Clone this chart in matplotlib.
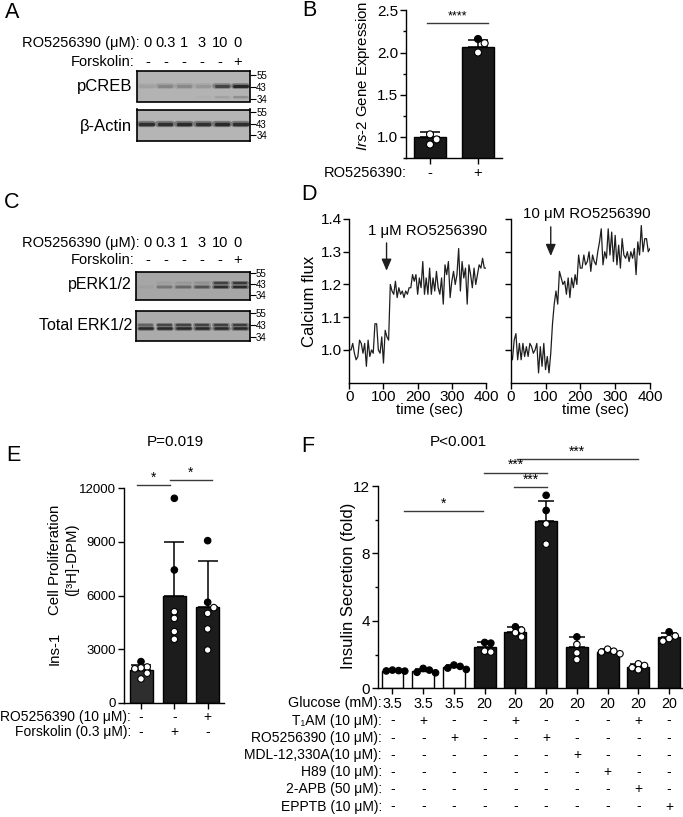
import matplotlib
matplotlib.use('Agg')

import matplotlib.pyplot as plt
from matplotlib.ticker import MultipleLocator, FixedLocator, FormatStrFormatter

W, H = 683, 817

plt.rcParams['font.family'] = ['Liberation Sans', 'DejaVu Sans']
plt.rcParams['mathtext.fontset'] = 'custom'
plt.rcParams['mathtext.rm'] = 'Liberation Sans'
plt.rcParams['mathtext.it'] = 'Liberation Sans:italic'

# ---------------- data ----------------
# A / C: western blots (band intensity 0..1 per lane)
ro_doses = ['0', '0.3', '1', '3', '10', '0']
forskolin = ['-', '-', '-', '-', '-', '+']
ladder = [55, 43, 34]
pcreb_44 = [0.12, 0.30, 0.28, 0.18, 0.72, 0.92]
pcreb_35 = [0.0, 0.0, 0.0, 0.03, 0.12, 0.25]
actin_42 = [0.86, 0.86, 0.90, 0.86, 0.90, 0.86]
perk_44 = [0.0, 0.06, 0.10, 0.16, 0.72, 0.78]
perk_42 = [0.05, 0.35, 0.45, 0.60, 0.86, 0.88]
erk_44 = [0.50, 0.70, 0.72, 0.72, 0.75, 0.76]
erk_42 = [0.90, 0.90, 0.90, 0.90, 0.90, 0.90]

# B: Irs-2 expression
irs2_mean = [1.00, 2.07]
irs2_sd = [0.06, 0.08]
irs2_pts = [[1.03, 0.97, 0.91], [2.16, 2.11, 2.00]]
irs2_ro = ['-', '+']

# D: calcium flux traces
time_s = list(range(0, 401, 5))
flux_1um = [1.00, 1.00, 1.02, 0.99, 0.97, 0.98, 1.03, 1.02, 0.99, 1.02,
            0.95, 1.03, 0.98, 1.00, 0.99, 1.08, 1.08, 1.00, 0.99, 1.04,
            0.96, 1.06, 1.04, 1.03, 1.20, 1.18, 1.17, 1.21, 1.16, 1.19,
            1.17, 1.18, 1.16, 1.18, 1.17, 1.19, 1.19, 1.23, 1.21, 1.23,
            1.17, 1.22, 1.19, 1.27, 1.17, 1.22, 1.17, 1.25, 1.17, 1.22,
            1.18, 1.24, 1.19, 1.17, 1.22, 1.14, 1.26, 1.23, 1.27, 1.16,
            1.21, 1.24, 1.20, 1.23, 1.31, 1.18, 1.27, 1.22, 1.25, 1.14,
            1.26, 1.23, 1.19, 1.25, 1.20, 1.23, 1.26, 1.25, 1.28, 1.25,
            1.25]
flux_10um = [0.99, 0.97, 1.03, 1.05, 0.97, 1.02, 0.97, 1.02, 0.98, 1.01,
             0.98, 1.02, 1.01, 0.99, 1.00, 1.02, 0.93, 1.01, 0.95, 1.02,
             0.94, 0.98, 0.93, 0.99, 1.08, 1.14, 1.18, 1.14, 1.24, 1.22,
             1.20, 1.21, 1.17, 1.22, 1.16, 1.22, 1.19, 1.23, 1.20, 1.29,
             1.25, 1.25, 1.29, 1.26, 1.27, 1.30, 1.24, 1.29, 1.27, 1.26,
             1.30, 1.33, 1.37, 1.26, 1.30, 1.28, 1.37, 1.29, 1.36, 1.27,
             1.35, 1.26, 1.32, 1.25, 1.34, 1.29, 1.28, 1.30, 1.27, 1.30,
             1.28, 1.31, 1.23, 1.33, 1.29, 1.38, 1.30, 1.34, 1.34, 1.30,
             1.31]

# E: Ins-1 proliferation
prolif_mean = [1830, 5950, 5370]
prolif_sd = [280, 3020, 2570]
prolif_pts = [[2300, 2000, 1950, 1900, 1650, 1330],
              [11440, 7430, 5090, 4720, 3980, 3550],
              [9070, 5620, 5320, 5000, 4130, 2950]]
e_ro = ['-', '-', '+']
e_fsk = ['-', '+', '-']

# F: insulin secretion
ins_mean = [1.05, 1.05, 1.25, 2.45, 3.35, 9.95, 2.45, 2.15, 1.28, 3.02]
ins_sd = [0.05, 0.12, 0.15, 0.32, 0.28, 1.14, 0.58, 0.18, 0.15, 0.25]
ins_pts = [[1.08, 1.05, 1.03, 1.02], [1.18, 1.08, 0.95, 0.92],
           [1.38, 1.30, 1.20, 1.12], [2.72, 2.68, 2.20, 2.15],
           [3.65, 3.45, 3.30, 3.05], [11.45, 10.55, 9.75, 8.55],
           [3.05, 2.60, 2.10, 1.70], [2.32, 2.20, 2.15, 2.05],
           [1.45, 1.35, 1.22, 1.10], [3.35, 3.10, 2.95, 2.80]]
glucose = ['3.5', '3.5', '3.5', '20', '20', '20', '20', '20', '20', '20']
f_labels = ['T\u2081AM (10 \u03bcM):', 'RO5256390 (10 \u03bcM):',
            'MDL-12,330A(10 \u03bcM):', 'H89 (10 \u03bcM):',
            '2-APB (50 \u03bcM):', 'EPPTB (10 \u03bcM):']
f_signs = [['-', '+', '-', '-', '+', '-', '-', '-', '+', '-'],
           ['-', '-', '+', '-', '-', '+', '-', '-', '-', '-'],
           ['-', '-', '-', '-', '-', '-', '+', '-', '-', '-'],
           ['-', '-', '-', '-', '-', '-', '-', '+', '-', '-'],
           ['-', '-', '-', '-', '-', '-', '-', '-', '+', '-'],
           ['-', '-', '-', '-', '-', '-', '-', '-', '-', '+']]

# ---------------- helpers ----------------
fig = plt.figure(figsize=(W / 100, H / 100), dpi=100)


def rect(x0, y0, x1, y1):
    return [x0 / W, 1 - y1 / H, (x1 - x0) / W, (y1 - y0) / H]


def ftext(x, y, s, **kw):
    kw.setdefault('ha', 'center')
    kw.setdefault('va', 'center')
    return fig.text(x / W, 1 - y / H, s, **kw)


def col_px(ax, i):
    return ax.transData.transform((i, 0))[0]


def style(ax):
    for s in ('top', 'right'):
        ax.spines[s].set_visible(False)
    for s in ('left', 'bottom'):
        ax.spines[s].set_linewidth(1.0)
    ax.tick_params(length=4, width=1.0, pad=1.5)


def blot(box, ylim, bg, bands):
    ax = fig.add_axes(rect(*box))
    ax.set_facecolor(bg)
    ax.set_xlim(-0.5, 5.5)
    ax.set_yscale('log')
    ax.set_ylim(*ylim)
    ax.set_xticks([])
    ax.yaxis.tick_right()
    ax.set_yticks(ladder)
    ax.set_yticklabels([str(m) for m in ladder])
    ax.set_yticks([], minor=True)
    ax.tick_params(axis='y', length=4, width=0.8, labelsize=7, pad=0.5)
    for sp in ax.spines.values():
        sp.set_linewidth(1.2)
    g = matplotlib.colors.to_rgb(bg)[0]
    for kda, vals, lw in bands:
        for i, v in enumerate(vals):
            if v <= 0:
                continue
            soft = g - (g - 0.1) * v * 0.45
            core = g - (g - 0.1) * v
            ax.plot([i - 0.36, i + 0.36], [kda, kda], color=str(soft),
                    lw=lw * 1.8, solid_capstyle='round')
            ax.plot([i - 0.33, i + 0.33], [kda, kda], color=str(core),
                    lw=lw, solid_capstyle='round')
    return ax


def swarm_x(ax, i, vals, d_px):
    ppx = col_px(ax, 1) - col_px(ax, 0)
    placed, xs = [], []
    for v in vals:
        yv = ax.transData.transform((0, v))[1]
        dx = 0
        for k in [0, 1, -1, 2, -2, 3, -3]:
            dx = k * d_px * 0.95
            if all((dx - px) ** 2 + (yv - py) ** 2 >= (d_px * 0.9) ** 2
                   for px, py in placed):
                break
        placed.append((dx, yv))
        xs.append(i + dx / ppx)
    return xs


def bar_panel(ax, means, sds, pts, colors, width, d_px, capsize):
    x = list(range(len(means)))
    ax.bar(x, means, width, color=colors, edgecolor='black', linewidth=1.0,
           zorder=2)
    ax.errorbar(x, means, yerr=[[0] * len(sds), sds], fmt='none',
                ecolor='black', elinewidth=1.1, capsize=capsize,
                capthick=1.1, zorder=3)
    for i, vals in enumerate(pts):
        xs = swarm_x(ax, i, vals, d_px)
        top = ax.transData.transform((0, means[i]))[1]
        fc = []
        for v in vals:
            vp = ax.transData.transform((0, v))[1]
            fc.append('black' if colors[i] == 'white' or vp - top > d_px * 0.55
                      else 'white')
        ax.scatter(xs, vals, s=(d_px * 0.72) ** 2, facecolors=fc,
                   edgecolors='black', linewidths=0.8, zorder=4, clip_on=False)


def sig(ax, x0, x1, y, label, fs=10):
    ax.plot([x0, x1], [y, y], color='#3a3a3a', lw=1.0, clip_on=False)
    ax.annotate(label, ((x0 + x1) / 2, y), xytext=(0, 0.2),
                textcoords='offset points', ha='center', va='bottom',
                fontsize=fs, annotation_clip=False)


# ---------------- A ----------------
lanes_px = [148, 166, 184, 202, 220, 238]
ftext(12, 13, 'A', fontsize=15.5)
ftext(140, 43, 'RO5256390 (\u03bcM):', ha='right', fontsize=10.5)
ftext(135, 62, 'Forskolin:', ha='right', fontsize=10.5)
for x, d, f in zip(lanes_px, ro_doses, forskolin):
    ftext(x, 43, d, fontsize=10.5)
    ftext(x, 62, f, fontsize=10.5)
blot((137, 71, 250, 101.5), (32.55, 59.5), '#b3b3b3',
     [(44, pcreb_44, 2.2), (35.5, pcreb_35, 1.3)])
blot((137, 109.5, 250, 141), (29.9, 58.4), '#b5b5b5',
     [(42.5, actin_42, 2.5)])
ftext(132, 86, 'pCREB', ha='right', fontsize=12)
ftext(132, 126, '\u03b2-Actin', ha='right', fontsize=12)

# ---------------- C ----------------
ftext(12, 203, 'C', fontsize=15.5)
ftext(140, 243, 'RO5256390 (\u03bcM):', ha='right', fontsize=10.5)
ftext(135, 260, 'Forskolin:', ha='right', fontsize=10.5)
for x, d, f in zip(lanes_px, ro_doses, forskolin):
    ftext(x, 243, d, fontsize=10.5)
    ftext(x, 260, f, fontsize=10.5)
blot((136, 271.7, 249.5, 300), (30.5, 56.2), '#a6a6a6',
     [(43.7, perk_44, 1.6), (40.7, perk_42, 1.6)])
blot((136, 311, 249.5, 341), (31.4, 56.9), '#ababab',
     [(43.5, erk_44, 1.6), (40.3, erk_42, 1.8)])
ftext(132, 285, 'pERK1/2', ha='right', fontsize=11.5)
ftext(132, 326, 'Total ERK1/2', ha='right', fontsize=11.5)

# ---------------- B ----------------
ftext(309, 11, 'B', fontsize=15.5)
axB = fig.add_axes(rect(406, 10.3, 502, 158))
style(axB)
axB.set_xlim(-0.5, 1.5)
axB.set_ylim(0.75, 2.5)
axB.yaxis.set_major_locator(FixedLocator([1.0, 1.5, 2.0, 2.5]))
axB.yaxis.set_major_formatter(FormatStrFormatter('%.1f'))
axB.yaxis.set_minor_locator(MultipleLocator(0.25))
axB.tick_params(axis='y', which='minor', length=2.5, width=1.0)
axB.set_xticks([0, 1])
axB.set_xticklabels([])
axB.tick_params(labelsize=11)
bar_panel(axB, irs2_mean, irs2_sd, irs2_pts, ['#1a1a1a', '#1a1a1a'],
          0.667, 7, 7)
sig(axB, -0.07, 1.2, 2.35, '****', fs=9)
ftext(363, 76, r'$\mathit{Irs}$-2 Gene Expression', rotation=90, fontsize=10.8)
ftext(407, 173, 'RO5256390:', ha='right', fontsize=10.5)
for i, s in enumerate(irs2_ro):
    ftext(col_px(axB, i), 173, s, fontsize=10.5)

# ---------------- D ----------------
ftext(309, 195, 'D', fontsize=15.5)
axD1 = fig.add_axes(rect(349.3, 219, 486, 382.7))
axD2 = fig.add_axes(rect(510.7, 219, 650, 382.7))
for ax, trace in ((axD1, flux_1um), (axD2, flux_10um)):
    style(ax)
    ax.plot(time_s, trace, color='#1e1e1e', lw=0.9)
    ax.set_xlim(0, 400)
    ax.set_ylim(0.9, 1.4)
    ax.xaxis.set_major_locator(MultipleLocator(100))
    ax.yaxis.set_major_locator(FixedLocator([1.0, 1.1, 1.2, 1.3, 1.4]))
    ax.yaxis.set_major_formatter(FormatStrFormatter('%.1f'))
    ax.tick_params(labelsize=11, pad=1)
axD2.set_yticklabels([])
arrow = dict(arrowstyle='-|>,head_length=0.7,head_width=0.3', color='#1e1e1e',
             lw=1.0, shrinkA=0, shrinkB=0)
axD1.annotate('', xy=(109, 1.242), xytext=(109, 1.327), arrowprops=arrow)
axD2.annotate('', xy=(115, 1.287), xytext=(115, 1.376), arrowprops=arrow)
axD1.text(230, 1.364, '1 \u03bcM RO5256390', ha='center', va='center',
          fontsize=10.8, clip_on=False)
axD2.text(218, 1.415, '10 \u03bcM RO5256390', ha='center', va='center',
          fontsize=10.8, clip_on=False)
ftext(310, 301, 'Calcium flux', rotation=90, fontsize=12)
ftext(430, 410, 'time (sec)', fontsize=11)
ftext(596, 410, 'time (sec)', fontsize=11)

# ---------------- E ----------------
ftext(13, 455, 'E', fontsize=15.5)
ftext(175, 442, 'P=0.019', fontsize=11)
axE = fig.add_axes(rect(124, 488.3, 224, 702.7))
style(axE)
axE.set_xlim(-0.51, 2.49)
axE.set_ylim(0, 12000)
axE.yaxis.set_major_locator(MultipleLocator(3000))
axE.set_xticks([0, 1, 2])
axE.set_xticklabels([])
axE.tick_params(labelsize=9.5)
bar_panel(axE, prolif_mean, prolif_sd, prolif_pts,
          ['#2e2e2e', '#1c1c1c', '#1c1c1c'], 0.69, 6.5, 7)
sig(axE, -0.13, 0.87, 12185, '*')
sig(axE, 0.87, 2.12, 12465, '*')
ftext(55, 560, 'Cell Proliferation', rotation=90, fontsize=10.8)
ftext(55, 648, 'Ins-1', rotation=90, fontsize=10.8)
ftext(72, 560, '([\u00b3H]-DPM)', rotation=90, fontsize=10.8)
ftext(131, 716.7, 'RO5256390 (10 \u03bcM):', ha='right', fontsize=10)
ftext(131, 731.7, 'Forskolin (0.3 \u03bcM):', ha='right', fontsize=10)
for i, (r, f) in enumerate(zip(e_ro, e_fsk)):
    ftext(col_px(axE, i), 716.7, r, fontsize=10)
    ftext(col_px(axE, i), 731.7, f, fontsize=10)

# ---------------- F ----------------
ftext(308, 447, 'F', fontsize=15.5)
ftext(458, 442, 'P<0.001', fontsize=11)
axF = fig.add_axes(rect(377.7, 486, 682, 688.3))
style(axF)
axF.set_xlim(-0.48, 9.42)
axF.set_ylim(0, 12)
axF.yaxis.set_major_locator(MultipleLocator(4))
axF.yaxis.set_minor_locator(MultipleLocator(2))
axF.tick_params(axis='y', which='minor', length=2.5, width=1.0)
axF.set_xticks(range(len(ins_mean)))
axF.set_xticklabels([])
axF.tick_params(labelsize=11)
f_colors = ['white' if g == '3.5' else '#1a1a1a' for g in glucose]
bar_panel(axF, ins_mean, ins_sd, ins_pts, f_colors, 0.71, 6.5, 6)
sig(axF, 0.37, 2.96, 10.54, '*')
sig(axF, 2.98, 5.02, 12.8, '***')
sig(axF, 3.97, 5.02, 11.96, '***')
sig(axF, 4.05, 7.98, 13.6, '***')
ftext(348, 586, 'Insulin Secretion (fold)', rotation=90, fontsize=12)
ftext(382, 703.5, 'Glucose (mM):', ha='right', fontsize=10.3)
for i, g in enumerate(glucose):
    ftext(col_px(axF, i), 703.5, g, fontsize=10.3)
for r, (lab, signs) in enumerate(zip(f_labels, f_signs)):
    y = 720.5 + r * 17.2
    ftext(382, y, lab, ha='right', fontsize=10)
    for i, s in enumerate(signs):
        ftext(col_px(axF, i), y, s, fontsize=10)

fig.savefig('out.png', dpi=100)
